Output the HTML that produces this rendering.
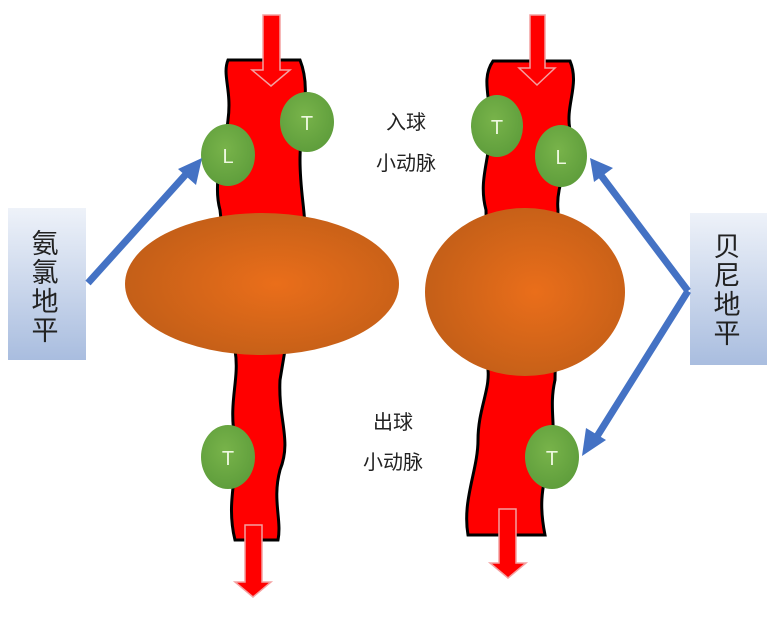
<!DOCTYPE html>
<html><head><meta charset="utf-8"><style>
html,body{margin:0;padding:0;background:#fff;}
svg{display:block;}
text{font-family:"Liberation Sans","Noto Sans CJK SC",sans-serif;}
</style></head><body>
<svg width="778" height="620" viewBox="0 0 778 620" xmlns="http://www.w3.org/2000/svg">
<defs>
<radialGradient id="og" cx="0.55" cy="0.5" r="0.55">
<stop offset="0" stop-color="#ea6e1a"/><stop offset="1" stop-color="#c45f18"/>
</radialGradient>
<linearGradient id="bx" x1="0" y1="0" x2="0" y2="1">
<stop offset="0" stop-color="#eef2f9"/><stop offset="1" stop-color="#a9bddf"/>
</linearGradient>
<radialGradient id="gg" cx="0.45" cy="0.4" r="0.6">
<stop offset="0" stop-color="#78b34a"/><stop offset="1" stop-color="#5f9e3c"/>
</radialGradient>
</defs>

<!-- left vessel -->
<path d="M228,60 L300,60 C312,90 300,120 300,160 C300,190 305,210 305,230 L280,380 C278,420 292,440 280,470 C272,500 282,520 278,540 L235,540 C225,500 240,470 235,440 C228,400 240,380 235,350 L220,210 C212,180 225,150 228,120 C232,90 222,75 228,60 Z" fill="#ff0000" stroke="#000" stroke-width="3"/>
<!-- right vessel -->
<path d="M493,61 L570,61 C580,85 565,105 570,130 C575,160 555,180 558,210 L555,380 C548,410 558,430 550,460 C540,490 540,510 545,535 L468,535 C462,500 478,470 478,440 C478,410 490,390 488,370 L486,210 C478,180 490,160 490,130 C492,100 480,80 493,61 Z" fill="#ff0000" stroke="#000" stroke-width="3"/>

<!-- ellipses -->
<ellipse cx="262" cy="284" rx="137" ry="71" fill="url(#og)"/>
<ellipse cx="525" cy="292" rx="100" ry="84" fill="url(#og)"/>

<!-- flow arrows -->
<path d="M263,15 L280,15 L280,70 L290,70 L271,86 L252,70 L263,70 Z" fill="#ff0000" stroke="#f4a0a0" stroke-width="1.5"/>
<path d="M530,15 L545,15 L545,68 L555,68 L537,85 L519,68 L530,68 Z" fill="#ff0000" stroke="#f4a0a0" stroke-width="1.5"/>
<path d="M245,525 L262,525 L262,582 L271,582 L253,597 L235,582 L245,582 Z" fill="#ff0000" stroke="#f4a0a0" stroke-width="1.5"/>
<path d="M499,509 L516,509 L516,563 L526,563 L508,578 L490,563 L499,563 Z" fill="#ff0000" stroke="#f4a0a0" stroke-width="1.5"/>

<!-- cells -->
<g fill="url(#gg)">
<ellipse cx="228" cy="155" rx="27" ry="31"/>
<ellipse cx="307" cy="122" rx="27" ry="30"/>
<ellipse cx="228" cy="457" rx="27" ry="32"/>
<ellipse cx="497" cy="126" rx="26" ry="31"/>
<ellipse cx="561" cy="156" rx="26" ry="31"/>
<ellipse cx="552" cy="457" rx="27" ry="32"/>
</g>
<g fill="#eef8e0" font-size="20" text-anchor="middle">
<text x="228" y="163">L</text>
<text x="307" y="130">T</text>
<text x="228" y="465">T</text>
<text x="497" y="134">T</text>
<text x="561" y="164">L</text>
<text x="552" y="465">T</text>
</g>

<!-- boxes -->
<rect x="8" y="208" width="78" height="152" fill="url(#bx)"/>
<rect x="690" y="213" width="77" height="152" fill="url(#bx)"/>
<g font-size="27" fill="#222" text-anchor="middle">
<text x="45" y="253">氨</text><text x="45" y="282">氯</text><text x="45" y="311">地</text><text x="45" y="340">平</text>
<text x="727" y="256">贝</text><text x="727" y="285">尼</text><text x="727" y="314">地</text><text x="727" y="343">平</text>
</g>

<!-- blue arrows -->
<g stroke="#4472c4" stroke-width="7" fill="none">
<line x1="88" y1="283" x2="188" y2="172"/>
<line x1="688" y1="291" x2="600" y2="174"/>
<line x1="688" y1="291" x2="596" y2="438"/>
</g>
<g fill="#4472c4">
<polygon points="202,158 196,185 178,169"/>
<polygon points="590,158 613,168 594,182"/>
<polygon points="582,456 586,428 606,440"/>
</g>

<!-- labels -->
<g font-size="20" fill="#222" text-anchor="middle">
<text x="406" y="129">入球</text>
<text x="406" y="170">小动脉</text>
<text x="393" y="429">出球</text>
<text x="393" y="469">小动脉</text>
</g>
</svg>
</body></html>
